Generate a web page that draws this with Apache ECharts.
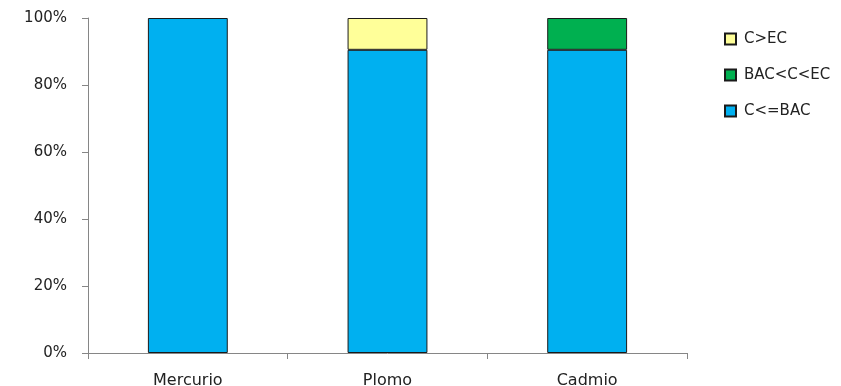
<!DOCTYPE html>
<html><head><meta charset="utf-8">
<script src="https://cdn.jsdelivr.net/npm/echarts@6/dist/echarts.min.js"></script>
<style>html,body{margin:0;padding:0;background:#fff}#c{width:841px;height:386px}</style>
</head><body><div id="c"></div>
<script>
const categories = ['Mercurio', 'Plomo', 'Cadmio'];
const seriesNames = ['C<=BAC', 'BAC<C<EC', 'C>EC'];
const valLow = [100, 90.5, 90.5];
const valMid = [0, 0, 9.5];
const valHigh = [0, 9.5, 0];
const yTicks = [0, 20, 40, 60, 80, 100];
const colors = ['#00B0F0', '#00B050', '#FFFF99'];

const chart = echarts.init(document.getElementById('c'));
const font = '"DejaVu Sans", sans-serif';
const data = [valLow, valMid, valHigh];
chart.setOption({
  animation: false,
  grid: {left: 88, right: 154, top: 18, bottom: 33, containLabel: false, outerBoundsMode: 'none'},
  legend: {
    orient: 'vertical', left: 719, top: 26, itemWidth: 11, itemHeight: 11, itemGap: 20,
    icon: 'rect',
    data: [seriesNames[2], seriesNames[1], seriesNames[0]],
    textStyle: {fontFamily: font, fontSize: 15, lineHeight: 16, color: '#222', padding: [0,0,0,3]}
  },
  xAxis: {
    type: 'category', data: categories,
    axisLine: {lineStyle: {color: '#868686'}},
    axisTick: {show: true, length: 6, lineStyle: {color: '#868686'}},
    axisLabel: {fontFamily: font, fontSize: 16, color: '#222', margin: 20}
  },
  yAxis: {
    type: 'value', min: yTicks[0], max: yTicks[yTicks.length-1], interval: 20,
    axisLine: {show: true, lineStyle: {color: '#868686'}},
    axisTick: {show: true, length: 6, lineStyle: {color: '#868686'}},
    splitLine: {show: false},
    axisLabel: {fontFamily: font, fontSize: 15, color: '#222', margin: 21, formatter: v => v + '%'}
  },
  series: seriesNames.map((n, i) => ({
    name: n, type: 'bar', stack: 'a', barWidth: '40%',
    data: data[i].map(v => v === 0 ? '-' : v),
    itemStyle: {color: colors[i], borderColor: '#1a1a1a', borderWidth: 1}
  }))
});
</script></body></html>
